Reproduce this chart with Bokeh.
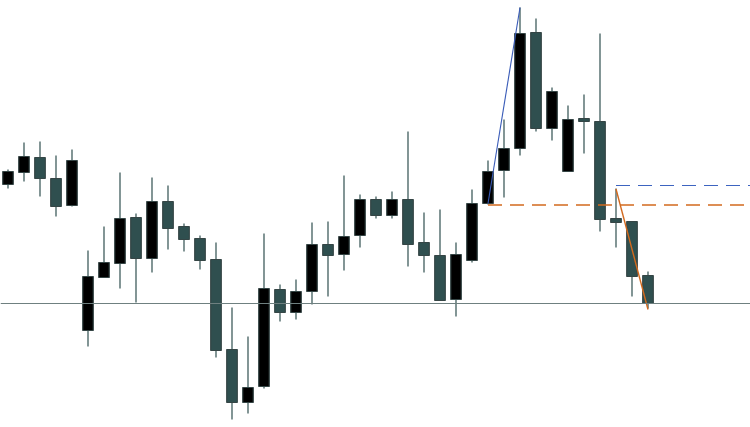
from bokeh.plotting import figure
from bokeh.models import ColumnDataSource, Span
from bokeh.embed import file_html
from bokeh.resources import INLINE

# OHLC values (arbitrary price units)
opens  = [243, 255, 270, 249, 222, 97, 150, 164, 210, 169, 226, 201, 189, 168, 78, 25, 41, 138, 115, 136,
          183, 173, 192, 228, 212, 228, 185, 172, 128, 167, 224, 257, 279, 395, 299, 256, 309, 306, 209, 206, 152]
highs  = [258, 285, 286, 272, 278, 177, 201, 255, 214, 250, 242, 204, 192, 185, 120, 91, 194, 143, 148, 205,
          206, 252, 233, 231, 236, 296, 215, 218, 185, 238, 267, 308, 420, 409, 340, 322, 333, 394, 239, 206, 156]
lows   = [239, 246, 231, 211, 221, 81, 150, 139, 125, 155, 178, 176, 158, 70, 8, 14, 39, 106, 108, 123,
          131, 157, 180, 209, 209, 161, 155, 127, 111, 165, 223, 230, 272, 296, 287, 256, 274, 196, 180, 131, 119]
closes = [256, 271, 249, 221, 267, 151, 165, 209, 169, 226, 199, 188, 167, 77, 25, 40, 139, 115, 136, 183,
          172, 191, 228, 212, 228, 183, 172, 127, 173, 224, 256, 279, 394, 299, 336, 308, 306, 208, 205, 151, 124]

# drawn objects: zigzag legs (bar index, price) and dashed levels
up_leg_x = [30, 32]
up_leg_y = [224, 420]
down_leg_x = [38, 40]
down_leg_y = [238.5, 118]
orange_level = 222.5
orange_level_start = 30
blue_level = 242
blue_level_start = 38

n = len(opens)
idx = list(range(n))
up = [c >= o for o, c in zip(opens, closes)]
src = ColumnDataSource(dict(
    x=idx, high=highs, low=lows,
    top=[max(o, c) for o, c in zip(opens, closes)],
    bottom=[min(o, c) for o, c in zip(opens, closes)],
    fill=["#000000" if u else "#2F4F4F" for u in up],
))

W, H = 750, 427
x0 = -7.5 / 16
p = figure(width=W, height=H, x_range=(x0, x0 + W / 16), y_range=(0, H),
           output_backend="svg", toolbar_location=None, min_border=0)
p.axis.visible = False
p.grid.visible = False
p.outline_line_color = None
p.background_fill_color = "white"
p.border_fill_color = "white"

p.segment(x0="x", y0="high", x1="x", y1="low", source=src, line_color="#2F4F4F", line_width=1.2)
p.vbar(x="x", width=0.66, top="top", bottom="bottom", source=src,
       fill_color="fill", line_color="#354545", line_width=1.2)

# current price line
p.add_layout(Span(location=closes[-1], dimension="width", line_color="#6F8080", line_width=1.2))

# dashed levels
xr_end = x0 + W / 16 + 1
p.line([orange_level_start, xr_end], [orange_level, orange_level], line_color="#D2691E",
       line_width=1.6, line_dash="14 8")
p.line([blue_level_start, xr_end], [blue_level, blue_level], line_color="#3D64C0",
       line_width=1.2, line_dash="14 8")

# zigzag legs
p.line(up_leg_x, up_leg_y, line_color="#3A5CB8", line_width=1.1)
p.line(down_leg_x, down_leg_y, line_color="#D2691E", line_width=1.4)

open("out.html", "w").write(file_html(p, INLINE))
